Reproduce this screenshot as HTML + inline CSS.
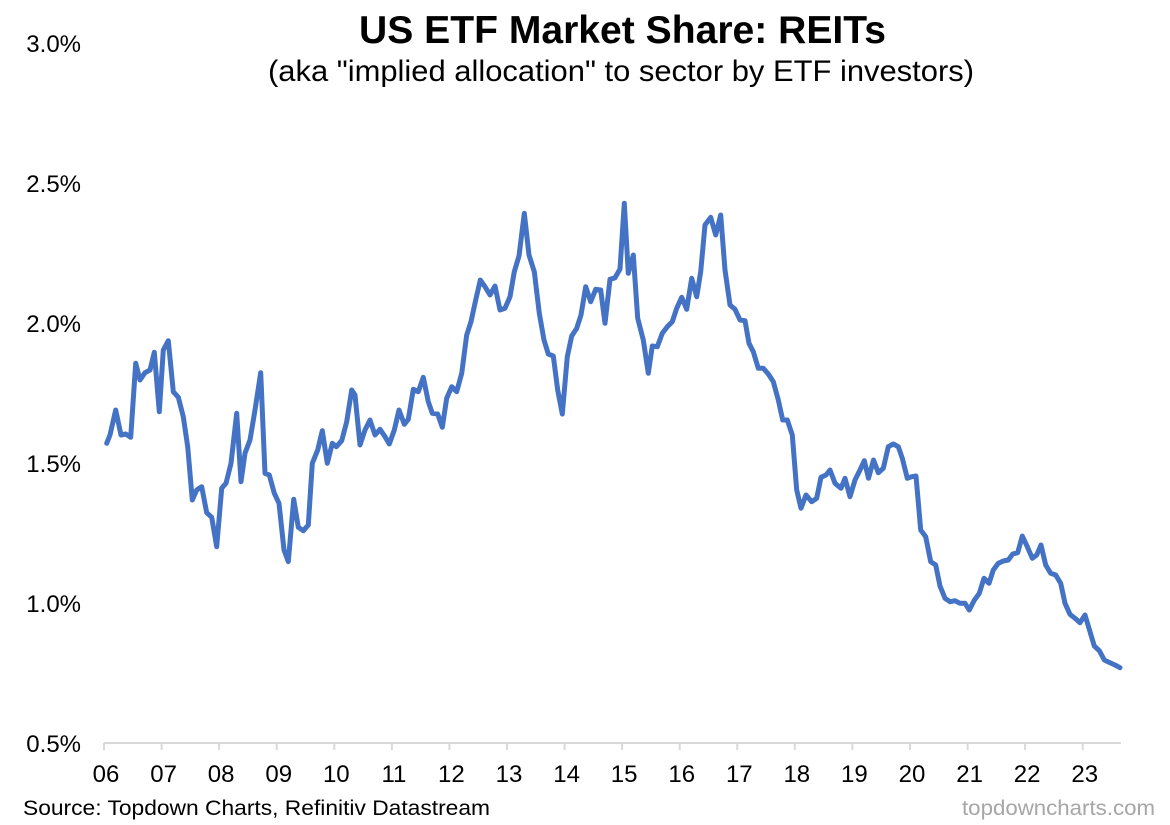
<!DOCTYPE html>
<html>
<head>
<meta charset="utf-8">
<style>
  html,body{margin:0;padding:0;background:#fff;}
  svg{display:block;}
  text{font-family:"Liberation Sans",Arial,sans-serif;}
</style>
</head>
<body>
<svg width="1170" height="825" viewBox="0 0 1170 825" xmlns="http://www.w3.org/2000/svg">
  <rect width="1170" height="825" fill="#ffffff"/>

  <!-- Title -->
  <text x="622.5" y="43" font-size="39" font-weight="bold" text-anchor="middle" textLength="527" lengthAdjust="spacingAndGlyphs" fill="#000">US ETF Market Share: REITs</text>
  <text x="621" y="81" font-size="30" text-anchor="middle" textLength="706" lengthAdjust="spacingAndGlyphs" fill="#000">(aka "implied allocation" to sector by ETF investors)</text>

  <!-- Y axis labels -->
  <g font-size="24" text-anchor="end" fill="#000">
    <text x="81" y="52">3.0%</text>
    <text x="81" y="192">2.5%</text>
    <text x="81" y="332">2.0%</text>
    <text x="81" y="472">1.5%</text>
    <text x="81" y="612">1.0%</text>
    <text x="81" y="752">0.5%</text>
  </g>

  <!-- X axis -->
  <line x1="104" y1="743" x2="1121" y2="743" stroke="#d9d9d9" stroke-width="2"/>
  <g stroke="#d9d9d9" stroke-width="2">
    <line x1="104" y1="743" x2="104" y2="750"/>
    <line x1="161.6" y1="743" x2="161.6" y2="750"/>
    <line x1="219.1" y1="743" x2="219.1" y2="750"/>
    <line x1="276.7" y1="743" x2="276.7" y2="750"/>
    <line x1="334.3" y1="743" x2="334.3" y2="750"/>
    <line x1="391.9" y1="743" x2="391.9" y2="750"/>
    <line x1="449.4" y1="743" x2="449.4" y2="750"/>
    <line x1="507" y1="743" x2="507" y2="750"/>
    <line x1="564.6" y1="743" x2="564.6" y2="750"/>
    <line x1="622.1" y1="743" x2="622.1" y2="750"/>
    <line x1="679.7" y1="743" x2="679.7" y2="750"/>
    <line x1="737.3" y1="743" x2="737.3" y2="750"/>
    <line x1="794.8" y1="743" x2="794.8" y2="750"/>
    <line x1="852.4" y1="743" x2="852.4" y2="750"/>
    <line x1="910" y1="743" x2="910" y2="750"/>
    <line x1="967.6" y1="743" x2="967.6" y2="750"/>
    <line x1="1025.1" y1="743" x2="1025.1" y2="750"/>
    <line x1="1082.7" y1="743" x2="1082.7" y2="750"/>
  </g>
  <g font-size="24" text-anchor="middle" fill="#000">
    <text x="106" y="782">06</text>
    <text x="163.6" y="782">07</text>
    <text x="221.1" y="782">08</text>
    <text x="278.7" y="782">09</text>
    <text x="336.3" y="782">10</text>
    <text x="393.9" y="782">11</text>
    <text x="451.4" y="782">12</text>
    <text x="509" y="782">13</text>
    <text x="566.6" y="782">14</text>
    <text x="624.1" y="782">15</text>
    <text x="681.7" y="782">16</text>
    <text x="739.3" y="782">17</text>
    <text x="796.8" y="782">18</text>
    <text x="854.4" y="782">19</text>
    <text x="912" y="782">20</text>
    <text x="969.6" y="782">21</text>
    <text x="1027.1" y="782">22</text>
    <text x="1084.7" y="782">23</text>
  </g>

  <!-- Series -->
  <polyline fill="none" stroke="#4472C4" stroke-width="5" stroke-linejoin="round" stroke-linecap="round"
    points="106.7,443.3 110,435 115.7,410 121,435 125.7,434 130.7,437.3 135.7,363.3 140,380 145,372.7 150,370 154.3,352.3 159.3,411.7 163.3,350 168.3,340.7 173.3,391.7 178.3,397.3 183.3,416.7 187.7,446.7 192.3,500 196.7,490 201.7,486.7 206.7,512.7 211.7,517.3 216.7,546.7 221.7,488.3 226,483.3 231,463.3 236.7,413.3 241,481.7 245,453.3 250,440 255,410 260.7,372.7 265,473.3 269.3,475 274.3,493.3 279,503.3 284,550 288.3,561.7 293.7,499.3 298.3,527.3 303.3,530.7 308.3,525 312.3,463.3 317.7,450 322.3,430.7 327.3,463.3 332.3,443.3 336.3,446.7 341.7,440.7 346.7,421.7 351.7,390 355,395 360,445 365,430 370,420 375,435 380,429.3 385,436.7 389.3,444 394.3,430 399,410 404.3,424.3 408.3,419.3 413.3,389.3 418.3,391.7 423.3,377.3 428.3,401.7 432.3,413.3 437.7,414 442.3,427.3 446.7,398.3 451.7,386.7 456.7,391.7 461.7,373.3 466.7,335 471,321.7 475.7,300 480.3,280 485,286.7 490,295 495,286 500,310 505,308.3 510,296.7 514.3,271.7 519,256 524.3,213.3 529,255 534.3,271.7 539.3,313.3 544,340 548.3,354 553.3,356 557.7,390 562.3,414 567.3,356.7 571.7,336 576.7,328.3 581,315 585.7,286.7 590.7,301.7 595.7,289.3 600.7,290 605,323.3 610,279.3 615,277.8 620,269 624.3,203.3 628.3,273.3 633.3,255 637.7,318.3 643.3,340 648.3,373.3 652.3,346 657.3,346.7 662.3,333.3 667.3,326.7 672.3,321.7 676.7,308.3 681.7,297.3 686.7,309.3 691.7,278.3 696.7,296.7 700.7,271.7 705,225 710.7,217.3 715.7,235 720.7,215 725,270 730,305 735,309.3 740,320 745,320.7 749,343.3 753.3,351.7 758.3,368.3 763.3,368.3 768.3,374 773.3,381.7 778.3,400 782.7,420 787.3,420 792.3,435 796.7,490 801,508.3 806,495 811.7,501.7 816.7,498.3 821,477.3 826,475 830,470 835,483.3 841,488.3 845,478.3 850,496.7 855,480 860,470 864.3,460.7 868.5,478.3 873.5,460 878.3,472.7 883.3,468.3 888.3,446.7 893.3,444 898.3,446.7 902.3,458.3 907.3,478.3 911.7,476.7 916,476 920.7,530 925.7,536.7 930.7,561.7 935.7,565 940,586 945,598.3 950,601.7 955,600.7 960,603.3 965,603.3 969.3,610 974,600.7 979.3,593.3 984,578.3 989,583.3 993.3,570 998.3,563.3 1003.3,561 1008.3,560 1012.7,554 1017.7,552.7 1022.3,536 1027.3,546.7 1032.3,558.3 1036.7,555 1041,545 1045.7,565 1050.7,573.3 1055.7,575 1060.7,583.3 1065,603.3 1070,614.3 1075,618.3 1080,622.7 1085,615 1090,631.7 1094.3,646 1099.3,650.7 1104.3,660 1110,662.7 1115,665 1120,667.7"/>

  <!-- Footer -->
  <text x="23" y="815" font-size="21" textLength="467" lengthAdjust="spacingAndGlyphs" fill="#000">Source: Topdown Charts, Refinitiv Datastream</text>
  <text x="962" y="815" font-size="21" textLength="193" lengthAdjust="spacingAndGlyphs" fill="#a6a6a6">topdowncharts.com</text>
</svg>
</body>
</html>
